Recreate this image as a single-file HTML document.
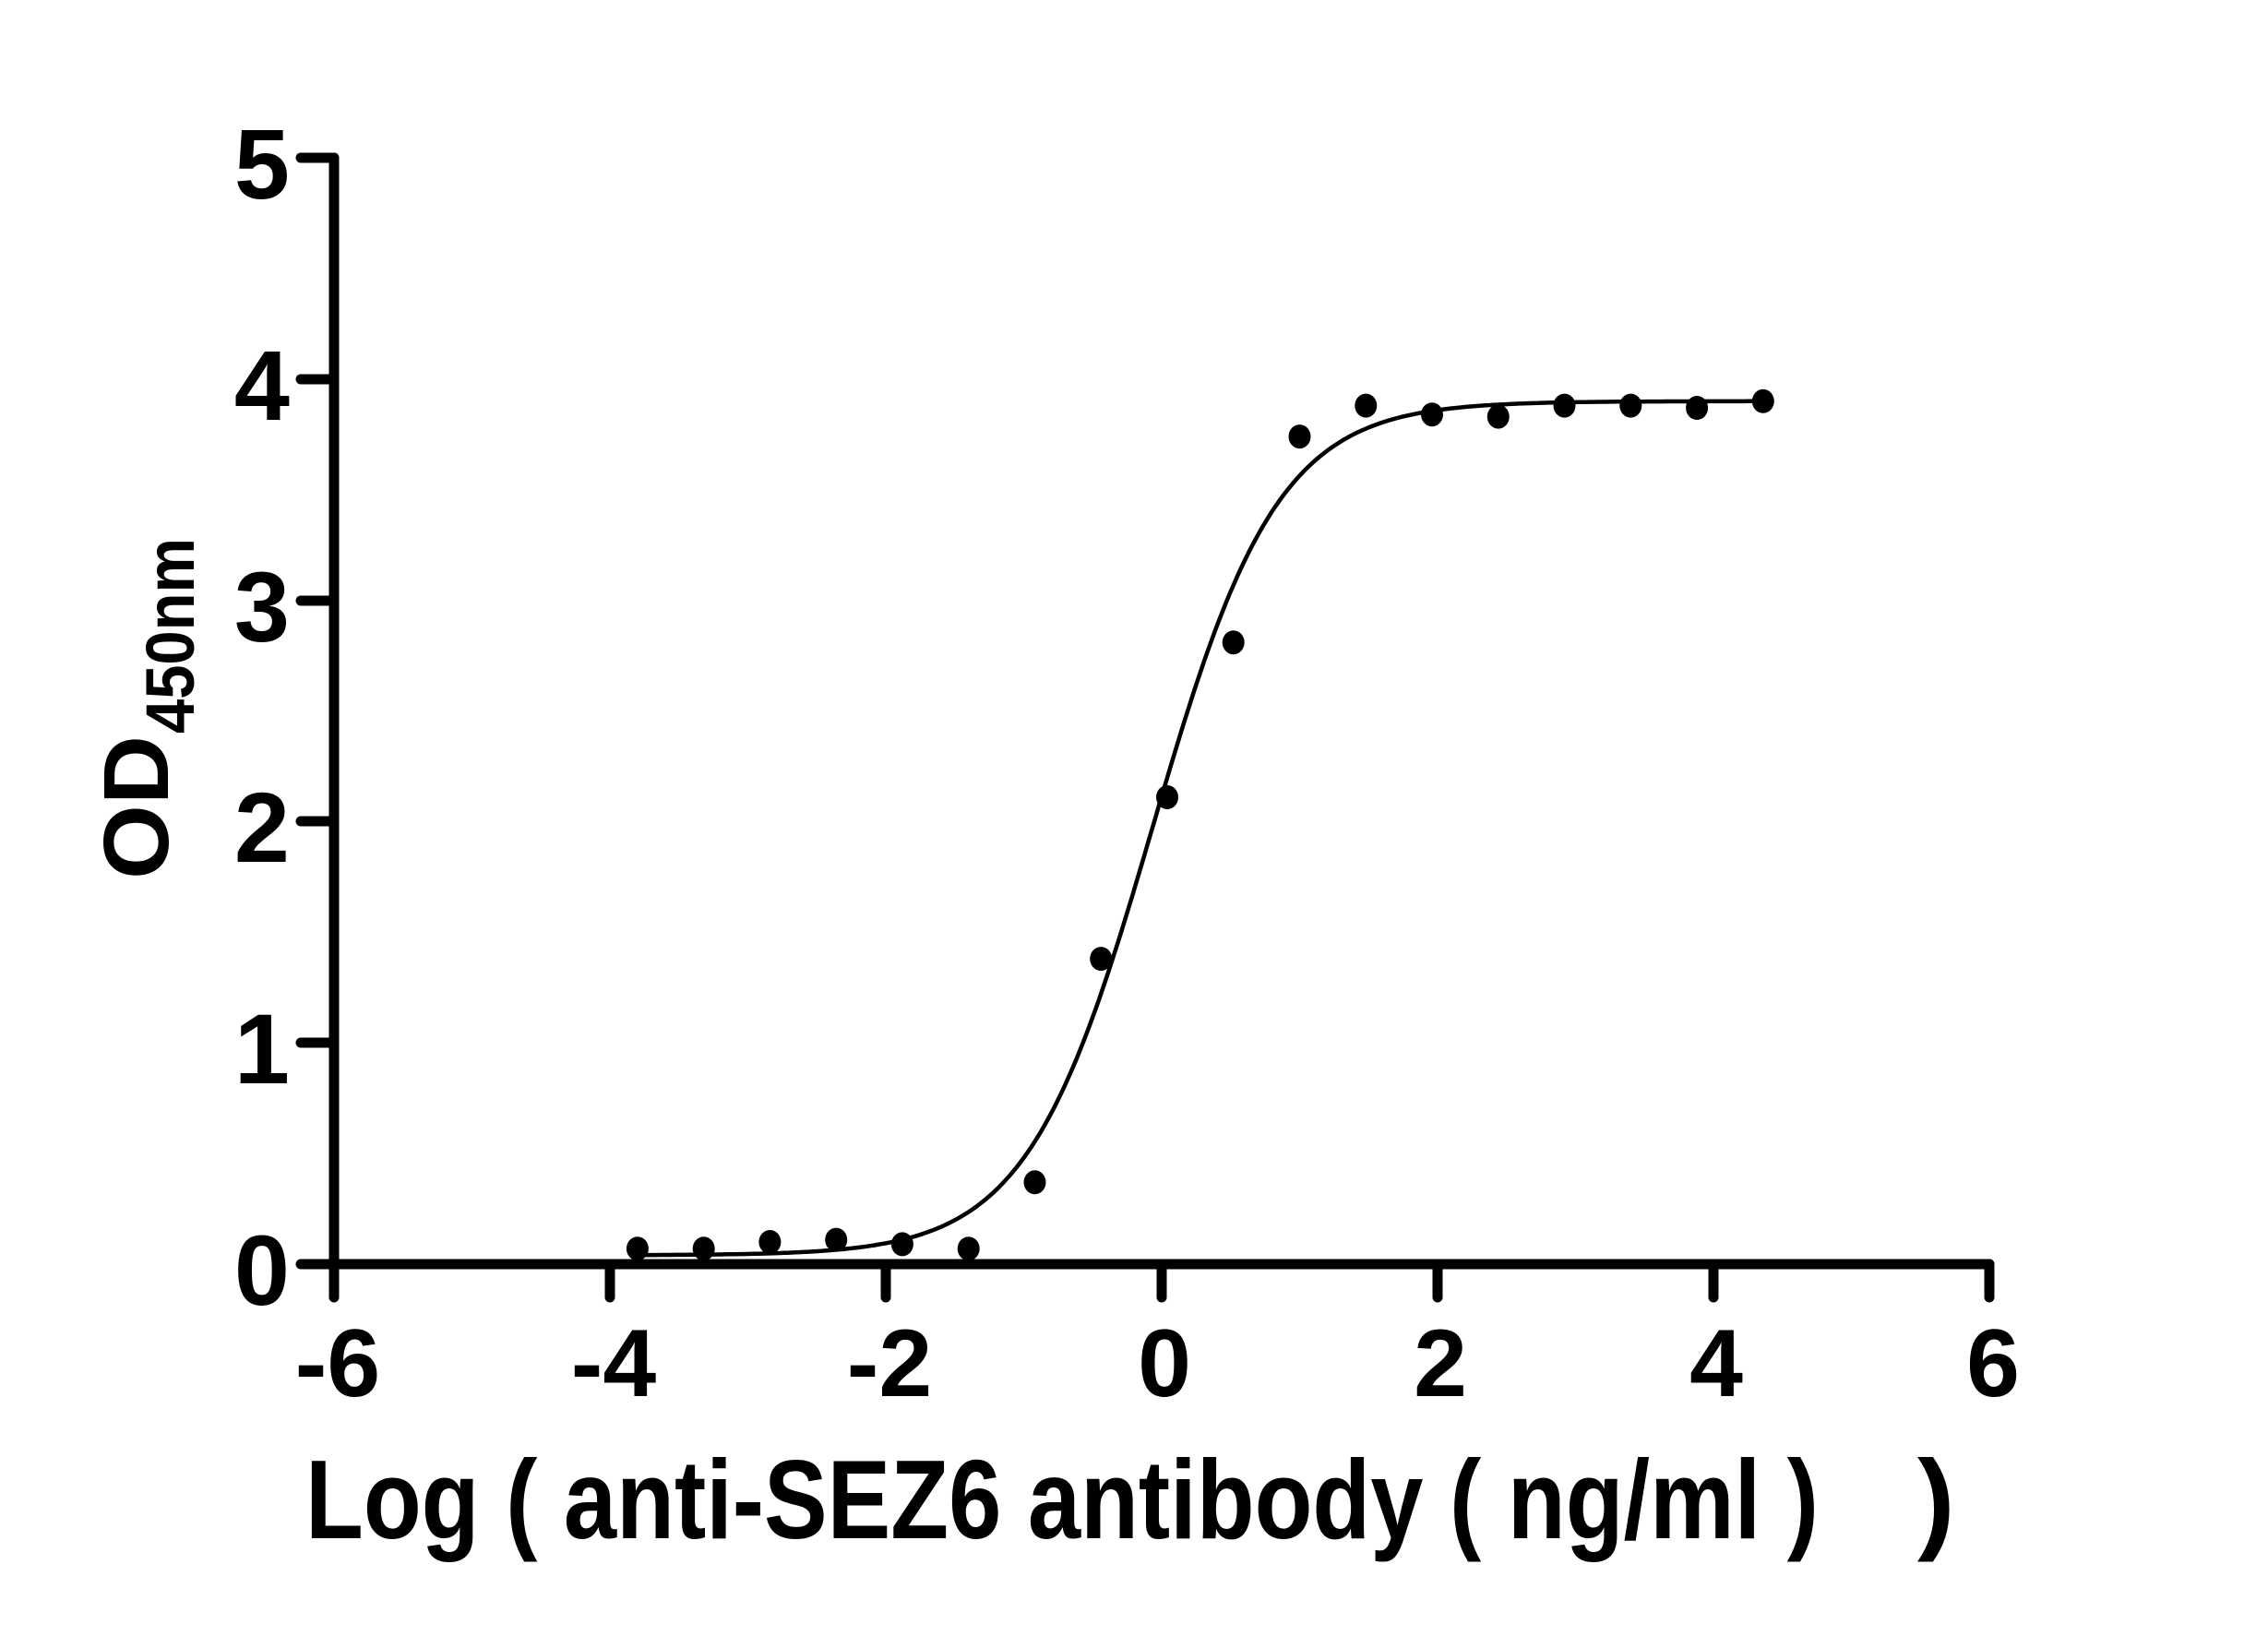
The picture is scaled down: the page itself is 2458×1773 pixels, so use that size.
<!DOCTYPE html>
<html><head><meta charset="utf-8"><style>
html,body{margin:0;padding:0;background:#fff;}
svg{display:block;}
text{font-family:"Liberation Sans",sans-serif;font-weight:bold;fill:#000;white-space:pre;}
</style></head><body>
<svg id="s" width="2458" height="1773" viewBox="0 0 2458 1773" xmlns="http://www.w3.org/2000/svg" xml:space="preserve">
<g stroke="#000" stroke-width="11" stroke-linecap="round" fill="none">
<line x1="362" y1="171" x2="362" y2="1370"/>
<line x1="326" y1="1370" x2="2156" y2="1370"/>
<line x1="326" y1="171" x2="362" y2="171"/>
<line x1="326" y1="411" x2="362" y2="411"/>
<line x1="326" y1="651" x2="362" y2="651"/>
<line x1="326" y1="890" x2="362" y2="890"/>
<line x1="326" y1="1130" x2="362" y2="1130"/>
<line x1="362" y1="1370" x2="362" y2="1406"/>
<line x1="661" y1="1370" x2="661" y2="1406"/>
<line x1="960" y1="1370" x2="960" y2="1406"/>
<line x1="1259" y1="1370" x2="1259" y2="1406"/>
<line x1="1558" y1="1370" x2="1558" y2="1406"/>
<line x1="1857" y1="1370" x2="1857" y2="1406"/>
<line x1="2156" y1="1370" x2="2156" y2="1406"/>
</g>
<g font-size="108" text-anchor="end">
<text x="314" y="215">5</text>
<text x="314" y="455">4</text>
<text x="314" y="695">3</text>
<text x="314" y="934">2</text>
<text x="314" y="1174">1</text>
<text x="314" y="1414">0</text>
</g>
<g font-size="104" text-anchor="middle">
<text x="366" y="1513">-6</text>
<text x="665" y="1513">-4</text>
<text x="964" y="1513">-2</text>
<text x="1262" y="1513">0</text>
<text x="1561" y="1513">2</text>
<text x="1860" y="1513">4</text>
<text x="2160" y="1513">6</text>
</g>
<text x="331" y="1667" font-size="122" textLength="1640" lengthAdjust="spacingAndGlyphs">Log ( anti-SEZ6 antibody ( ng/ml )</text>
<text x="2078" y="1667" font-size="122">)</text>
<text transform="translate(182,953) rotate(-90)" font-size="100" textLength="156" lengthAdjust="spacingAndGlyphs">OD</text>
<text transform="translate(210,795) rotate(-90)" font-size="74" textLength="212" lengthAdjust="spacingAndGlyphs">450nm</text>
<path id="curve" fill="none" stroke="#000" stroke-width="4.5"/>
<g id="pts"></g>
</svg>
<script>
var X=function(v){return 362+(v+6)*149.5;},Y=function(v){return 1370-v*239.8;};
var d="";for(var i=0;i<=300;i++){var x=-3.8+i*(8.16/300);var y=0.04+3.86/(1+Math.pow(10,(-0.068-x)*0.955));d+=(i?"L":"M")+X(x).toFixed(1)+" "+Y(y).toFixed(1);}
document.getElementById("curve").setAttribute("d",d);
var ys=[0.07,0.07,0.1,0.11,0.09,0.07,0.37,1.38,2.11,2.81,3.74,3.88,3.84,3.83,3.88,3.88,3.87,3.9];
var g=document.getElementById("pts"),h="";
for(var k=0;k<ys.length;k++){var xv=-3.8+k*0.48;h+='<ellipse cx="'+X(xv).toFixed(1)+'" cy="'+Y(ys[k]).toFixed(1)+'" rx="12" ry="13" fill="#000"/>';}
g.innerHTML=h;
</script>
</body></html>
